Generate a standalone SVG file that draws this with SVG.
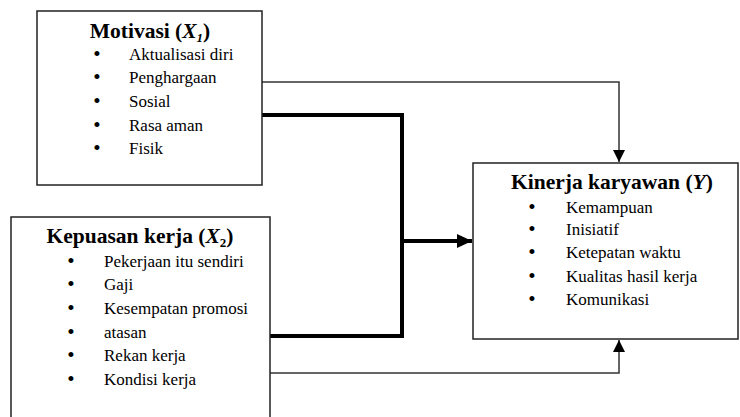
<svg xmlns="http://www.w3.org/2000/svg" width="740" height="417" viewBox="0 0 740 417">
<defs>
<style>
.box{fill:#fff;stroke:#222;stroke-width:1.5}
.title{font-family:"Liberation Serif","Times New Roman",serif;font-weight:bold;font-size:21.5px;fill:#000;text-anchor:middle}
text.it{font-family:"Liberation Serif","Times New Roman",serif;font-size:17px;fill:#000}
text.bu{font-family:"Liberation Serif","Times New Roman",serif;font-size:21px;fill:#000;text-anchor:middle}
.thin{fill:none;stroke:#333;stroke-width:1.5}
.thick{fill:none;stroke:#000;stroke-width:4}
</style>
<marker id="ah" markerUnits="userSpaceOnUse" markerWidth="12" markerHeight="14" viewBox="0 0 12 14" refX="12" refY="7" orient="auto">
<polygon points="0,1 12,7 0,13" fill="#000"/>
</marker>
<marker id="ahb" markerUnits="userSpaceOnUse" markerWidth="16" markerHeight="16" viewBox="0 0 16 16" refX="15" refY="8" orient="auto">
<polygon points="0,1 15,8 0,15" fill="#000"/>
</marker>
</defs>
<rect width="740" height="417" fill="#fff"/>
<g id="connectors">
<path class="thin" d="M262,82 H619 V162" marker-end="url(#ah)"/>
<path class="thin" d="M270,373 H619 V340" marker-end="url(#ah)"/>
<path class="thick" d="M262,115 H402 V336 H270"/>
<path class="thick" d="M402,241 H472" marker-end="url(#ahb)"/>
</g>
<g id="motivasi">
<rect class="box" x="37" y="11" width="225" height="174"/>
<text class="title" x="150" y="38">Motivasi (<tspan font-style="italic">X</tspan><tspan font-style="italic" font-size="13" dy="4">1</tspan><tspan dy="-4">)</tspan></text>
<text class="bu" x="97" y="61">•</text><text class="it" x="129" y="60">Aktualisasi diri</text>
<text class="bu" x="97" y="84">•</text><text class="it" x="129" y="83">Penghargaan</text>
<text class="bu" x="97" y="108">•</text><text class="it" x="129" y="107">Sosial</text>
<text class="bu" x="97" y="132">•</text><text class="it" x="129" y="131">Rasa aman</text>
<text class="bu" x="97" y="155">•</text><text class="it" x="129" y="154">Fisik</text>
</g>
<g id="kepuasan">
<rect class="box" x="11" y="217" width="259" height="220"/>
<text class="title" x="140" y="243">Kepuasan kerja (<tspan font-style="italic">X</tspan><tspan font-size="13" dy="4">2</tspan><tspan dy="-4">)</tspan></text>
<text class="bu" x="71" y="268">•</text><text class="it" x="104" y="267">Pekerjaan itu sendiri</text>
<text class="bu" x="71" y="291">•</text><text class="it" x="104" y="290">Gaji</text>
<text class="bu" x="71" y="315">•</text><text class="it" x="104" y="314">Kesempatan promosi</text>
<text class="bu" x="71" y="339">•</text><text class="it" x="104" y="338">atasan</text>
<text class="bu" x="71" y="362">•</text><text class="it" x="104" y="361">Rekan kerja</text>
<text class="bu" x="71" y="386">•</text><text class="it" x="104" y="385">Kondisi kerja</text>
</g>
<g id="kinerja">
<rect class="box" x="473" y="163" width="265" height="176"/>
<text class="title" x="612" y="189">Kinerja karyawan (<tspan font-style="italic">Y</tspan>)</text>
<text class="bu" x="532" y="214">•</text><text class="it" x="566" y="213">Kemampuan</text>
<text class="bu" x="532" y="236">•</text><text class="it" x="566" y="235">Inisiatif</text>
<text class="bu" x="532" y="259">•</text><text class="it" x="566" y="258">Ketepatan waktu</text>
<text class="bu" x="532" y="283">•</text><text class="it" x="566" y="282">Kualitas hasil kerja</text>
<text class="bu" x="532" y="306">•</text><text class="it" x="566" y="305">Komunikasi</text>
</g>
</svg>
